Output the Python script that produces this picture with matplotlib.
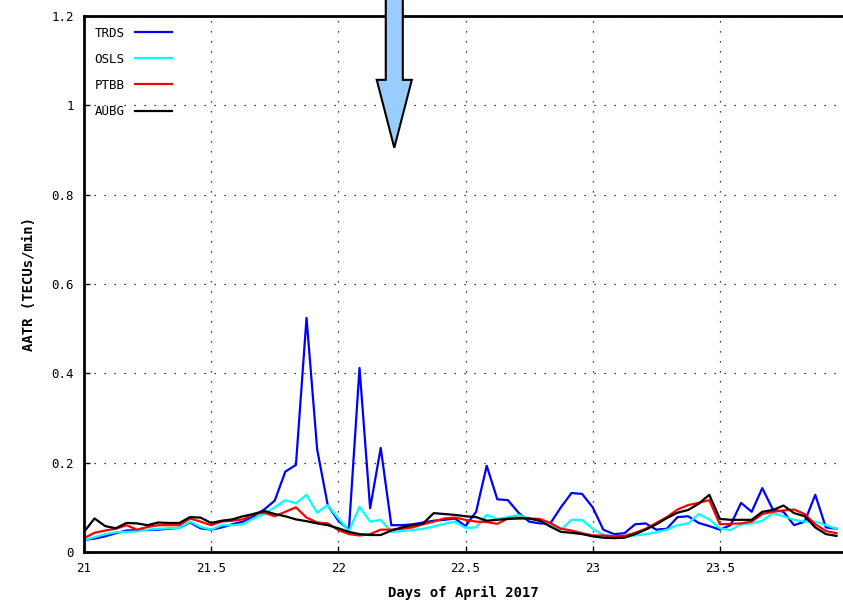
import numpy as np
import matplotlib.pyplot as plt
from matplotlib.patches import FancyArrow

# hourly AATR values, 21 April 00h .. 23 April 23h
hours = np.arange(72)
days = 21 + hours / 24.0

trds = [0.027, 0.030, 0.035, 0.042, 0.048, 0.049, 0.049, 0.050, 0.052, 0.054,
        0.066, 0.053, 0.050, 0.055, 0.062, 0.068, 0.080, 0.095, 0.115, 0.180,
        0.195, 0.524, 0.230, 0.105, 0.070, 0.050, 0.412, 0.098, 0.233, 0.060,
        0.060, 0.062, 0.066, 0.070, 0.072, 0.075, 0.058, 0.090, 0.193, 0.118,
        0.116, 0.088, 0.068, 0.064, 0.064, 0.100, 0.132, 0.130, 0.100, 0.050,
        0.040, 0.042, 0.062, 0.064, 0.050, 0.052, 0.078, 0.080, 0.065, 0.058,
        0.050, 0.060, 0.110, 0.090, 0.143, 0.095, 0.090, 0.060, 0.068, 0.128,
        0.055, 0.052]

osls = [0.027, 0.033, 0.040, 0.044, 0.045, 0.046, 0.050, 0.052, 0.053, 0.054,
        0.068, 0.056, 0.050, 0.060, 0.060, 0.062, 0.075, 0.085, 0.100, 0.116,
        0.109, 0.128, 0.088, 0.105, 0.075, 0.047, 0.101, 0.068, 0.072, 0.045,
        0.047, 0.049, 0.052, 0.057, 0.063, 0.068, 0.054, 0.055, 0.083, 0.074,
        0.078, 0.083, 0.075, 0.070, 0.060, 0.050, 0.072, 0.072, 0.052, 0.038,
        0.036, 0.034, 0.037, 0.040, 0.044, 0.050, 0.060, 0.064, 0.085, 0.073,
        0.053, 0.049, 0.062, 0.064, 0.070, 0.087, 0.080, 0.072, 0.068, 0.068,
        0.060, 0.052]

ptbb = [0.031, 0.043, 0.048, 0.052, 0.060, 0.050, 0.056, 0.060, 0.060, 0.060,
        0.075, 0.068, 0.060, 0.068, 0.070, 0.073, 0.085, 0.088, 0.080, 0.090,
        0.100, 0.077, 0.066, 0.064, 0.049, 0.040, 0.037, 0.040, 0.050, 0.050,
        0.052, 0.055, 0.062, 0.068, 0.075, 0.077, 0.072, 0.068, 0.067, 0.063,
        0.075, 0.077, 0.075, 0.074, 0.065, 0.052, 0.048, 0.042, 0.037, 0.037,
        0.035, 0.036, 0.043, 0.052, 0.065, 0.078, 0.095, 0.105, 0.110, 0.116,
        0.062, 0.063, 0.064, 0.068, 0.085, 0.090, 0.093, 0.095, 0.085, 0.062,
        0.047, 0.042]

aubg = [0.045, 0.075, 0.058, 0.053, 0.065, 0.064, 0.060, 0.066, 0.065, 0.065,
        0.078, 0.077, 0.065, 0.070, 0.073, 0.080, 0.085, 0.092, 0.085, 0.080,
        0.073, 0.069, 0.064, 0.060, 0.053, 0.045, 0.040, 0.038, 0.038, 0.048,
        0.055, 0.060, 0.064, 0.087, 0.085, 0.083, 0.080, 0.078, 0.070, 0.072,
        0.074, 0.075, 0.075, 0.070, 0.057, 0.045, 0.043, 0.040, 0.035, 0.032,
        0.031, 0.032, 0.040, 0.050, 0.062, 0.076, 0.088, 0.094, 0.108, 0.128,
        0.074, 0.072, 0.072, 0.072, 0.090, 0.094, 0.104, 0.087, 0.080, 0.055,
        0.040, 0.036]

stations = ['TRDS', 'OSLS', 'PTBB', 'AUBG']
colors = ['#0000ff', '#00ffff', '#ff0000', '#000000']
series = [trds, osls, ptbb, aubg]

x_ticks = [21, 21.5, 22, 22.5, 23, 23.5]
x_labels = ['21', '21.5', '22', '22.5', '23', '23.5']
y_ticks = [0, 0.2, 0.4, 0.6, 0.8, 1.0, 1.2]
y_labels = ['0', '0.2', '0.4', '0.6', '0.8', '1', '1.2']

# arrow marking the event
arrow_x = 22.22
arrow_tip = 0.905
arrow_top = 1.25

plt.rcParams['font.family'] = 'DejaVu Sans Mono'

fig = plt.figure(figsize=(8.43, 6.03), dpi=100)
ax = fig.add_axes([0.0996, 0.0846, 0.9004, 0.8889])

for name, col, vals in zip(stations, colors, series):
    ax.plot(days, vals, color=col, lw=1.6, label=name)

ax.set_xlim(21, 23.984)
ax.set_ylim(0, 1.2)
ax.set_xticks(x_ticks)
ax.set_xticklabels(x_labels, fontsize=9)
ax.set_yticks(y_ticks)
ax.set_yticklabels(y_labels, fontsize=9)
ax.tick_params(direction='in', length=4, width=1, pad=7)
ax.grid(True, color='black', linestyle=(0, (1, 7)), lw=0.9)

for s in ['left', 'bottom', 'top']:
    ax.spines[s].set_linewidth(2.0)
ax.spines['right'].set_visible(False)

ax.set_xlabel('Days of April 2017', fontsize=10, fontweight='bold', labelpad=8)
ax.set_ylabel('AATR (TECUs/min)', fontsize=10, fontweight='bold', labelpad=11)

leg = ax.legend(loc='upper left', markerfirst=False, frameon=False, fontsize=9,
                handlelength=3.0, labelspacing=1.05, borderaxespad=0.55,
                borderpad=0.3, handletextpad=0.8)

arr = FancyArrow(arrow_x, arrow_top, 0, arrow_tip - arrow_top, width=0.067,
                 head_width=0.138, head_length=0.152, length_includes_head=True,
                 facecolor='#99ccff', edgecolor='black', lw=1.5, clip_on=False,
                 zorder=5)
ax.add_patch(arr)

fig.savefig('out.png', dpi=100)
